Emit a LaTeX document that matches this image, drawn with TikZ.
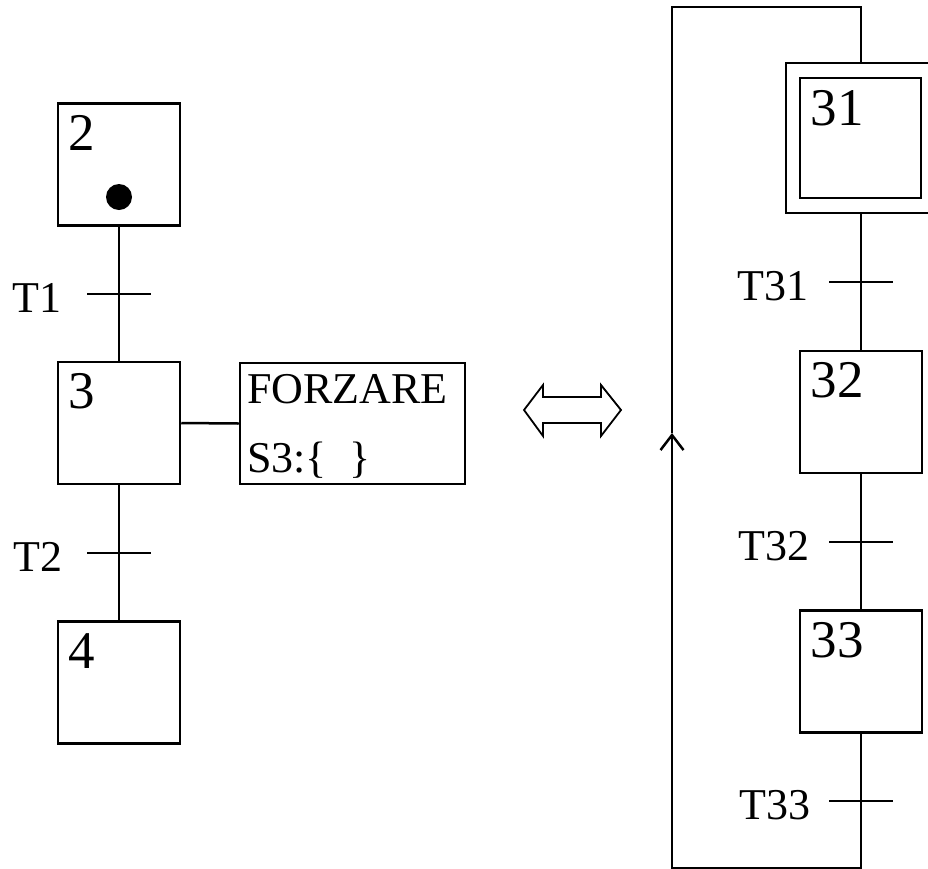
\documentclass[tikz,border=0pt]{standalone}
\usepackage{fontspec}
\setmainfont{Liberation Serif}
\usetikzlibrary{arrows.meta, calc, positioning}
\tikzset{
  link/.style={line width=2.5pt},
  loop arrow/.style={-{Straight Barb[length=15pt,width=23pt]}, line width=2.5pt},
}

\begin{document}
\begin{tikzpicture}[x=1pt, y=-1pt,
    stepbox/.style={draw, line width=2.5pt, minimum width=122pt,
                    minimum height=122pt, inner sep=0pt},
    initbox/.style={draw, line width=2.5pt, minimum width=150pt,
                    minimum height=150pt, inner sep=0pt},
    num/.style={font=\fontsize{53}{53}\selectfont, inner sep=0pt, anchor=base west},
    lab/.style={font=\fontsize{44}{44}\selectfont, inner sep=0pt, anchor=east},
    ftext/.style={font=\fontsize{44}{44}\selectfont, inner sep=0pt, anchor=base west}]
  \path[use as bounding box] (0,0) rectangle (928,868);
  \clip (0,0) rectangle (928,868);
  % Left chart
  \node[stepbox] (s2) at (119,164.5) {};
  \node[stepbox] (s3) at (119,423)   {};
  \node[stepbox] (s4) at (119,682.5) {};
  \node[num] (n2) at ($(s2.north west)+(12,48)$) {2};
  \node[num] (n3) at ($(s3.north west)+(12,48)$) {3};
  \node[num] (n4) at ($(s4.north west)+(12,48)$) {4};
  \node[circle, fill, minimum size=26pt, inner sep=0pt] (tok) at (119,197) {};
  \draw[link] (s2) -- (s3);
  \draw[link] (s3) -- (s4);
  \coordinate (t1) at ($(s2.south)!0.5!(s3.north)$);
  \coordinate (t2) at ($(s3.south)!0.5!(s4.north)$);
  \draw[link] ($(t1)+(-32,0)$) -- ($(t1)+(32,0)$);
  \draw[link] ($(t2)+(-32,0)$) -- ($(t2)+(32,0)$);
  \node[lab] (l1) at ($(t1)+(-57,4)$) {T1};
  \node[lab] (l2) at ($(t2)+(-56,4)$) {T2};
  % Forcing order
  \node[draw, line width=2.5pt, minimum width=225pt, minimum height=121pt,
        inner sep=0pt] (forz) at (352.5,423.5) {};
  \draw[link] (s3.east) -- (forz.west);
  \node[ftext] (ftop) at (247,403) {FORZARE};
  \node[ftext] (fbot) at (247,472) {S3:\{\hspace{0.5em}\}};
  % Equivalence
  \coordinate (eqv) at (572,410);
  \draw[line width=1.8pt] (eqv) ++(-48,0) -- ++(19,-25) -- ++(0,12) -- ++(58,0)
    -- ++(0,-12) -- ++(20,25) -- ++(-20,26) -- ++(0,-13) -- ++(-58,0)
    -- ++(0,13) -- cycle;
  % Right chart
  \node[initbox] (s31o) at (861,138) {};
  \node[stepbox, minimum width=121pt, minimum height=120pt] (s31) at (860.5,138) {};
  \node[stepbox] (s32) at (861,412)   {};
  \node[stepbox] (s33) at (861,671.5) {};
  \node[num] (n31) at ($(s31.north west)+(12,49)$) {31};
  \node[num] (n32) at ($(s32.north west)+(12,48)$) {32};
  \node[num] (n33) at ($(s33.north west)+(12,48)$) {33};
  \draw[link] (s31o) -- (s32);
  \draw[link] (s32) -- (s33);
  \coordinate (lb) at (672,868);
  \coordinate (la) at (672,433);
  \coordinate (lt) at (672,7);
  \coordinate (t31) at ($(s31o.south)!0.5!(s32.north)$);
  \coordinate (t32) at ($(s32.south)!0.5!(s33.north)$);
  \coordinate (t33) at ($(s33.south)!0.5!(s33.south |- lb)$);
  \draw[link] ($(t31)+(-32,0)$) -- ($(t31)+(32,0)$);
  \draw[link] ($(t32)+(-32,0)$) -- ($(t32)+(32,0)$);
  \draw[link] ($(t33)+(-32,0)$) -- ($(t33)+(32,0)$);
  \node[lab] (l31) at ($(t31)+(-52,4)$) {T31};
  \node[lab] (l32) at ($(t32)+(-51,4)$) {T32};
  \node[lab] (l33) at ($(t33)+(-50,4)$) {T33};
  % Loop back
  \draw[loop arrow] (s33.south) |- (lb) -- (la);
  \draw[link] (la) -- (lt) -| (s31o.north);
\end{tikzpicture}
\end{document}
